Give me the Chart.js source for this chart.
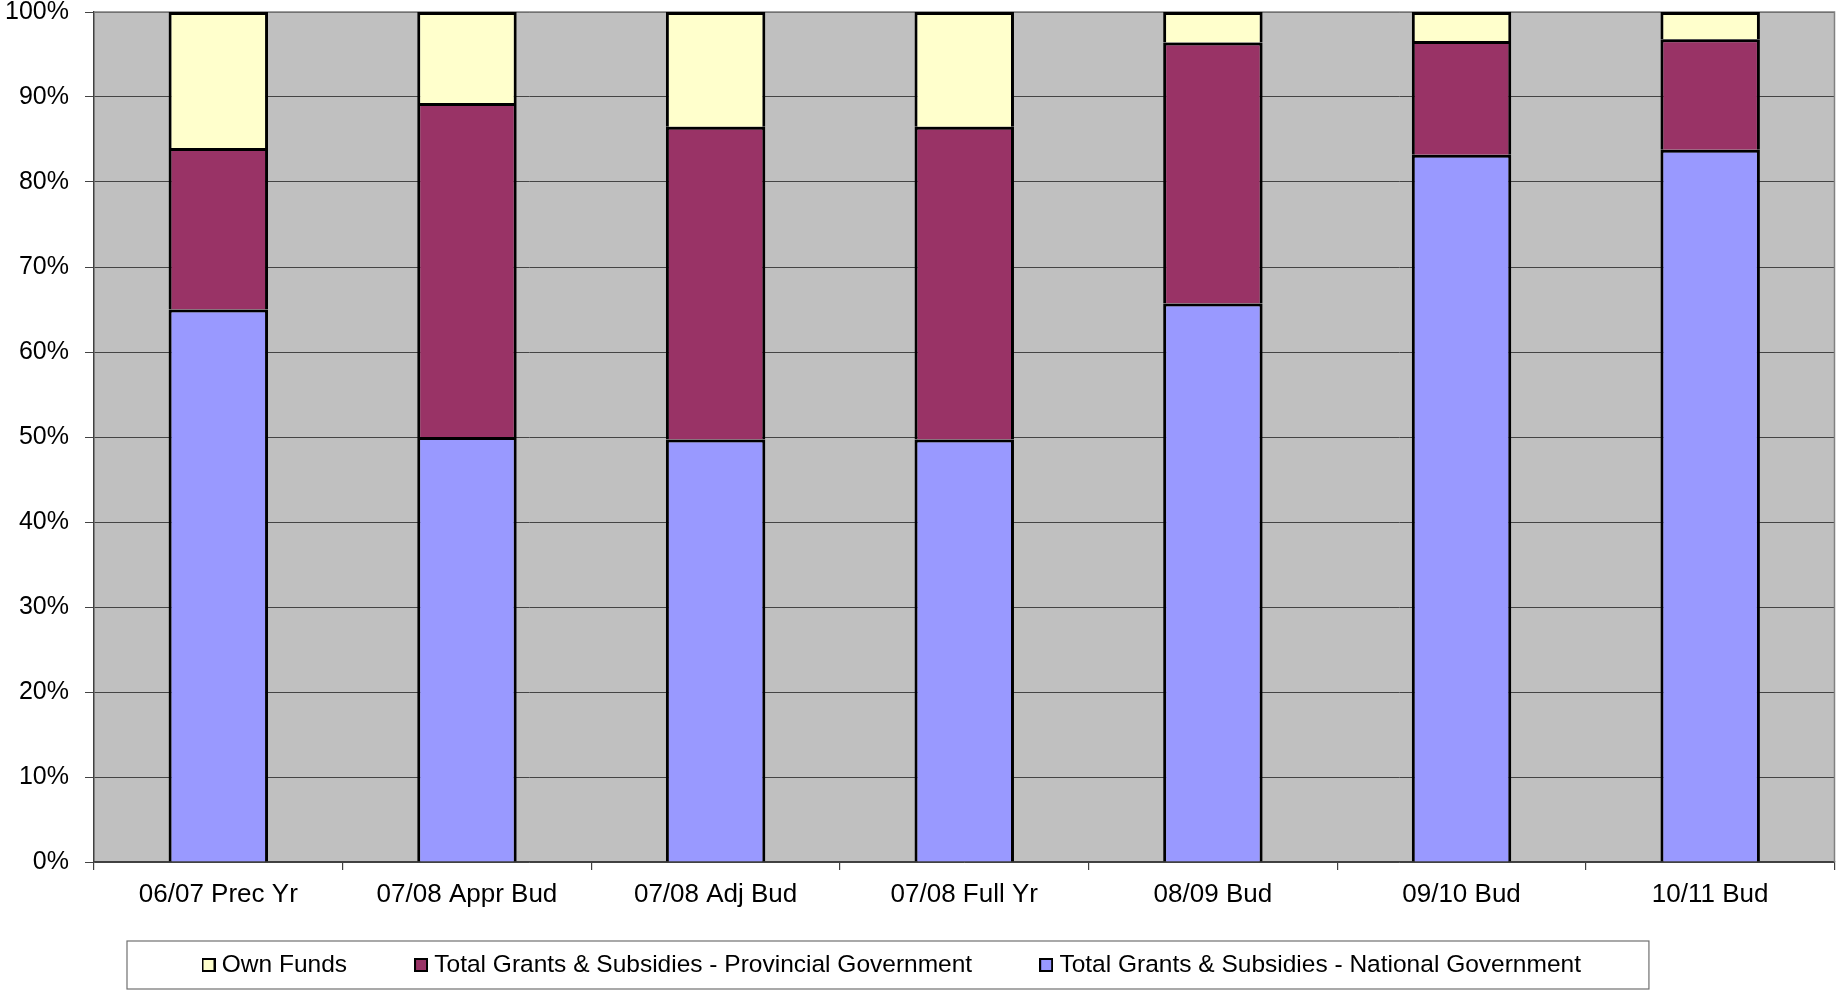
<!DOCTYPE html>
<html>
<head>
<meta charset="utf-8">
<title>Funding sources by budget year</title>
<script src="https://cdn.jsdelivr.net/npm/chart.js@4/dist/chart.umd.min.js"></script>
<style>
  html, body { margin: 0; padding: 0; background: #ffffff; }
  #wrap { width: 1838px; height: 991px; position: relative; }
</style>
</head>
<body>
<div id="wrap"><canvas id="chart"></canvas></div>
<script>
// Budget periods along the x axis
const categories = ['06/07 Prec Yr', '07/08 Appr Bud', '07/08 Adj Bud', '07/08 Full Yr', '08/09 Bud', '09/10 Bud', '10/11 Bud'];

// Share of total funding per period (percent)
const nationalShare   = [65.0, 50.0, 49.7, 49.7, 65.7, 83.2, 83.8];
const provincialShare = [19.0, 39.3, 36.8, 36.8, 30.7, 13.4, 13.0];
const ownFundsShare   = [16.0, 10.7, 13.5, 13.5,  3.6,  3.4,  3.2];

// Series names
const seriesNames = ['Total Grants & Subsidies - National Government', 'Total Grants & Subsidies - Provincial Government', 'Own Funds'];

// Value axis tick labels (0 .. 100 in steps of 10)
const yTickLabels = ['0%', '10%', '20%', '30%', '40%', '50%', '60%', '70%', '80%', '90%', '100%'];

const FONT = "'Liberation Sans', Arial, Helvetica, sans-serif";

// Small square legend marker with a black outline
function legendMarker(fill) {
  const c = document.createElement('canvas');
  c.width = 14;
  c.height = 14;
  const g = c.getContext('2d');
  g.fillStyle = fill;
  g.fillRect(1, 1, 12, 12);
  g.strokeStyle = '#000000';
  g.lineWidth = 2;
  g.strokeRect(1, 1, 12, 12);
  return c;
}

// Grey plot background and the thin frame on the top and right of the plot
const plotFrame = {
  id: 'plotFrame',
  beforeDraw(chart) {
    const { ctx, chartArea: a } = chart;
    ctx.save();
    ctx.fillStyle = '#C0C0C0';
    ctx.fillRect(a.left, a.top, a.right - a.left, a.bottom - a.top);
    ctx.restore();
  },
  beforeDatasetsDraw(chart) {
    const { ctx, chartArea: a } = chart;
    ctx.save();
    ctx.strokeStyle = '#808080';
    ctx.lineWidth = 1.5;
    ctx.beginPath();
    ctx.moveTo(a.left, a.top);
    ctx.lineTo(a.right, a.top);
    ctx.lineTo(a.right, a.bottom);
    ctx.stroke();
    ctx.restore();
  }
};

// First item position of the legend row
function legendRowStart(lg) {
  const pad = lg.options.labels.padding;
  return (lg.left + pad + lg.right - lg.lineWidths[0]) / 2;
}

// Places the legend row and draws the framed box around it
const legendFrame = {
  id: 'legendFrame',
  afterLayout(chart, args, opts) {
    const lg = chart.legend;
    if (!lg || !lg.lineWidths) return;
    const dx = opts.rowStartX - legendRowStart(lg);
    lg.left += dx;
    lg.right += dx;
    lg.top = opts.rowTop;
    lg.bottom = chart.height;
    lg.height = lg.bottom - lg.top;
  },
  afterDraw(chart, args, opts) {
    const lg = chart.legend;
    if (!lg || !lg.lineWidths) return;
    const pad = lg.options.labels.padding;
    const x0 = legendRowStart(lg);
    const x1 = x0 + lg.lineWidths[0] - pad;
    const { ctx } = chart;
    ctx.save();
    ctx.strokeStyle = '#707070';
    ctx.lineWidth = 1.2;
    ctx.strokeRect(x0 - opts.marginLeft, opts.boxTop, (x1 - x0) + opts.marginLeft + opts.marginRight, opts.boxHeight);
    ctx.restore();
  }
};

const barStyle = {
  borderColor: '#000000',
  borderWidth: 3,
  borderSkipped: 'start',
  categoryPercentage: 1.0,
  barPercentage: 0.4
};

new Chart(document.getElementById('chart'), {
  type: 'bar',
  data: {
    labels: categories,
    datasets: [
      Object.assign({ label: seriesNames[0], data: nationalShare,   backgroundColor: '#9999FF' }, barStyle),
      Object.assign({ label: seriesNames[1], data: provincialShare, backgroundColor: '#993366' }, barStyle),
      Object.assign({ label: seriesNames[2], data: ownFundsShare,   backgroundColor: '#FFFFCC' }, barStyle)
    ]
  },
  options: {
    responsive: true,
    maintainAspectRatio: false,
    devicePixelRatio: 1,
    animation: false,
    layout: { padding: { left: 5, right: 3.5, top: 12, bottom: 0 } },
    scales: {
      x: {
        stacked: true,
        offset: true,
        afterFit(s) { s.height = 48; s.paddingLeft = 0; s.paddingRight = 0; },
        grid: { offset: true, drawOnChartArea: false, drawTicks: true, tickLength: 8, color: '#404040', lineWidth: 1.2 },
        border: { display: true, color: '#404040', width: 1.5 },
        ticks: { font: { family: FONT, size: 26 }, color: '#000000', padding: 9, maxRotation: 0, autoSkip: false }
      },
      y: {
        stacked: true,
        min: 0,
        max: 100,
        afterFit(s) { s.width = 89; s.paddingTop = 0; s.paddingBottom = 0; },
        grid: { color: '#444444', lineWidth: 1, tickLength: 9 },
        border: { display: true, color: '#404040', width: 1.5 },
        ticks: {
          stepSize: 10,
          font: { family: FONT, size: 25, lineHeight: 1 },
          color: '#000000',
          padding: 16,
          callback: (v) => yTickLabels[Math.round(v / 10)]
        }
      }
    },
    plugins: {
      tooltip: { enabled: false },
      legend: {
        position: 'bottom',
        reverse: true,
        maxHeight: 81,
        labels: {
          usePointStyle: true,
          pointStyleWidth: 2,
          boxHeight: 14,
          padding: 73,
          color: '#000000',
          font: { family: FONT, size: 24.5 },
          generateLabels(chart) {
            const items = Chart.defaults.plugins.legend.labels.generateLabels(chart);
            items.forEach((it) => { it.pointStyle = legendMarker(it.fillStyle); });
            return items;
          }
        }
      },
      legendFrame: { rowStartX: 207.5, rowTop: 879.75, boxTop: 941, boxHeight: 48, marginLeft: 80.5, marginRight: 68 }
    }
  },
  plugins: [plotFrame, legendFrame]
});
</script>
</body>
</html>
